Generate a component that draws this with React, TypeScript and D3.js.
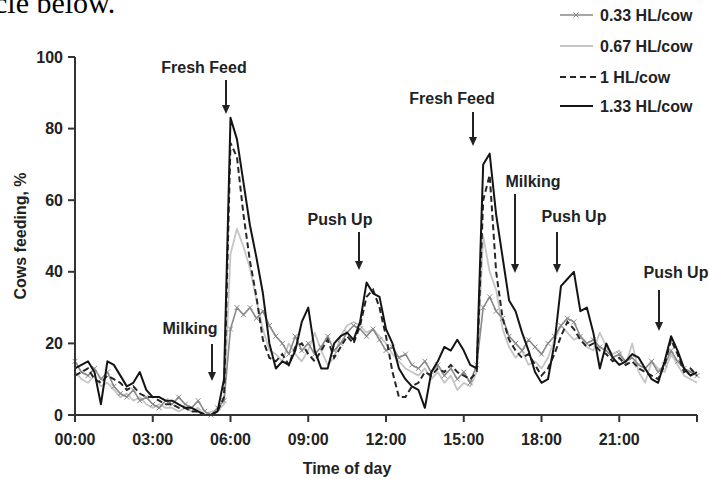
import React from "react";
import * as d3 from "d3";

// Time grid: every 15 minutes from 00:00 to 24:00 (hours)
const times: number[] = d3.range(97).map((i) => i * 0.25);

const s033: number[] = [
  15, 12, 11, 13, 10, 12, 8, 6, 5, 7, 4, 5, 3, 2, 4, 3, 5, 3, 2, 4, 1, 0, 2, 4,
  24, 30, 28, 30, 27, 29, 25, 22, 20, 17, 22, 18, 20, 17, 19, 22, 18, 20, 23, 25,
  24, 22, 24, 21, 18, 19, 16, 17, 14, 13, 15, 12, 14, 11, 13, 10, 12, 9, 14, 30,
  33, 29, 27, 22, 20, 18, 21, 19, 17, 20, 22, 25, 27, 26, 22, 20, 21, 19, 18, 16,
  17, 15, 16, 14, 13, 15, 12, 14, 18, 15, 13, 12, 11,
];

const s067: number[] = [
  12, 10, 9, 11, 8, 9, 7, 5, 6, 4, 5, 3, 2, 3, 2, 2, 1, 2, 1, 2, 0, 1, 1, 3,
  45, 52, 47, 41, 32, 24, 18, 17, 15, 20, 17, 15, 18, 23, 18, 14, 16, 22, 25, 26,
  25, 23, 24, 22, 20, 17, 15, 13, 12, 11, 13, 10, 12, 9, 11, 7, 9, 8, 12, 50,
  40, 35, 24, 19, 16, 18, 14, 15, 13, 16, 21, 25, 23, 21, 22, 19, 18, 23, 19, 17,
  18, 14, 20, 12, 9, 15, 13, 12, 17, 14, 11, 10, 9,
];

const s100: number[] = [
  11, 12, 13, 10, 9, 11, 10, 9, 7, 8, 6, 5, 5, 4, 3, 3, 2, 2, 1, 1, 0, 0, 1, 5,
  76, 72, 56, 43, 33, 21, 16, 15, 17, 14, 19, 20, 17, 15, 18, 21, 16, 19, 22, 20,
  25, 33, 35, 30, 22, 12, 5, 5, 8, 9, 12, 11, 13, 12, 14, 12, 11, 10, 12, 60,
  67, 40, 27, 21, 18, 16, 17, 14, 11, 13, 17, 22, 26, 24, 21, 19, 20, 18, 17, 15,
  16, 14, 15, 13, 12, 11, 10, 14, 21, 17, 12, 13, 11,
];

const s133: number[] = [
  13, 14, 15, 12, 3, 15, 14, 11, 8, 9, 12, 7, 5, 5, 4, 4, 3, 2, 2, 1, 0, 0, 1, 10,
  83, 77, 65, 53, 44, 34, 20, 13, 15, 14, 18, 26, 30, 18, 13, 13, 20, 22, 23, 21,
  26, 37, 34, 33, 24, 20, 13, 10, 8, 7, 2, 12, 15, 19, 18, 21, 18, 14, 13, 70,
  73, 56, 44, 32, 29, 23, 18, 12, 9, 10, 20, 36, 38, 40, 29, 30, 23, 13, 20, 16,
  14, 15, 17, 16, 13, 10, 9, 15, 22, 18, 13, 11, 12,
];

const seriesNames: string[] = ["0.33 HL/cow", "0.67 HL/cow", "1 HL/cow", "1.33 HL/cow"];

const xTickValues: number[] = [0, 3, 6, 9, 12, 15, 18, 21, 24];
const xTickLabels: string[] = ["00:00", "03:00", "06:00", "09:00", "12:00", "15:00", "18:00", "21:00", ""];
const yTickValues: number[] = [0, 20, 40, 60, 80, 100];

const annotationLabels: string[] = ["Fresh Feed", "Fresh Feed", "Milking", "Milking", "Push Up", "Push Up", "Push Up"];
// [text center x, text baseline y, arrow x, arrow top y, arrow tip y]
const annotationGeom: number[][] = [
  [204, 73, 226, 80, 114],
  [452, 104, 473, 112, 146],
  [190, 334, 212, 344, 381],
  [533, 187, 515, 194, 273],
  [340, 225, 359, 232, 270],
  [574, 222, 557, 232, 273],
  [676, 278, 659, 290, 331],
];

const FONT = "'Liberation Sans', Arial, Helvetica, sans-serif";

export default function App() {
  const W = 710;
  const H = 479;
  const x = d3.scaleLinear().domain([0, 24]).range([75, 697]);
  const y = d3.scaleLinear().domain([0, 100]).range([415, 57]);

  const mk = (vals: number[]) =>
    d3
      .line<number>()
      .x((_, i) => x(times[i]))
      .y((v) => y(v))(vals) as string;

  const styles = [
    { data: s033, stroke: "#8a8a8a", width: 1.6, dash: undefined as string | undefined },
    { data: s067, stroke: "#c6c6c6", width: 1.8, dash: undefined },
    { data: s100, stroke: "#262626", width: 2, dash: "6,3.5" },
    { data: s133, stroke: "#141414", width: 2, dash: undefined },
  ];

  const cross = (cx: number, cy: number, r: number, key: string, color: string) => (
    <path
      key={key}
      d={`M${cx - r},${cy - r}L${cx + r},${cy + r}M${cx - r},${cy + r}L${cx + r},${cy - r}`}
      stroke={color}
      strokeWidth={1}
      fill="none"
    />
  );

  const legendY = [15, 46, 77, 106];

  return (
    <svg
      width={W}
      height={H}
      style={{ position: "absolute", left: 0, top: 0, background: "#fff" }}
      fontFamily={FONT}
    >
      <rect x={0} y={0} width={W} height={H} fill="#fff" />
      <text x={-6} y={13} fontFamily="'Liberation Serif', 'Times New Roman', serif" fontSize={30} fill="#000">
        cle below.
      </text>

      {/* series: draw lighter first */}
      <path d={mk(s067)} fill="none" stroke={styles[1].stroke} strokeWidth={styles[1].width} strokeLinejoin="round" />
      <path d={mk(s033)} fill="none" stroke={styles[0].stroke} strokeWidth={styles[0].width} strokeLinejoin="round" />
      <g>
        {s033.map((v, i) => cross(x(times[i]), y(v), 2.5, "c" + i, "#8a8a8a"))}
      </g>
      <path d={mk(s100)} fill="none" stroke={styles[2].stroke} strokeWidth={styles[2].width} strokeDasharray={styles[2].dash} />
      <path d={mk(s133)} fill="none" stroke={styles[3].stroke} strokeWidth={styles[3].width} strokeLinejoin="round" />

      {/* axes */}
      <line x1={x(0)} x2={x(0)} y1={y(0)} y2={y(100)} stroke="#333" strokeWidth={2} />
      <line x1={x(0) - 1} x2={x(24)} y1={y(0)} y2={y(0)} stroke="#333" strokeWidth={2} />
      {yTickValues.map((v) => (
        <g key={"y" + v}>
          <line x1={x(0) - 7} x2={x(0)} y1={y(v)} y2={y(v)} stroke="#333" strokeWidth={2} />
          <text x={63} y={y(v) + 5.5} textAnchor="end" fontSize={16} fontWeight="bold" fill="#222">
            {v}
          </text>
        </g>
      ))}
      {xTickValues.map((v, i) => (
        <g key={"x" + v}>
          <line x1={x(v)} x2={x(v)} y1={y(0)} y2={y(0) + 7} stroke="#333" strokeWidth={2} />
          <text x={x(v)} y={445} textAnchor="middle" fontSize={16} fontWeight="bold" fill="#222">
            {xTickLabels[i]}
          </text>
        </g>
      ))}
      <text x={347} y={474} textAnchor="middle" fontSize={16} fontWeight="bold" fill="#222">
        Time of day
      </text>
      <text
        transform={`translate(26,236) rotate(-90)`}
        textAnchor="middle"
        fontSize={16}
        fontWeight="bold"
        fill="#222"
      >
        Cows feeding, %
      </text>

      {/* annotations */}
      {annotationLabels.map((lab, i) => {
        const [tx, ty, ax, a0, a1] = annotationGeom[i];
        return (
          <g key={"a" + i}>
            <text x={tx} y={ty} textAnchor="middle" fontSize={16} fontWeight="bold" fill="#222">
              {lab}
            </text>
            <line x1={ax} x2={ax} y1={a0} y2={a1 - 7} stroke="#222" strokeWidth={2} />
            <path d={`M${ax - 4},${a1 - 9}L${ax + 4},${a1 - 9}L${ax},${a1}Z`} fill="#222" />
          </g>
        );
      })}

      {/* legend */}
      {seriesNames.map((name, i) => {
        const ly = legendY[i];
        const st = styles[i];
        return (
          <g key={"l" + i}>
            <line
              x1={560}
              x2={i === 2 ? 597 : 593}
              y1={ly}
              y2={ly}
              stroke={st.stroke}
              strokeWidth={st.width}
              strokeDasharray={i === 2 ? "6,4" : undefined}
            />
            {i === 0 && cross(576, ly, 2.5, "lc", "#8a8a8a")}
            <text x={600} y={ly + 5.5} fontSize={16} fontWeight="bold" fill="#222">
              {name}
            </text>
          </g>
        );
      })}
    </svg>
  );
}
